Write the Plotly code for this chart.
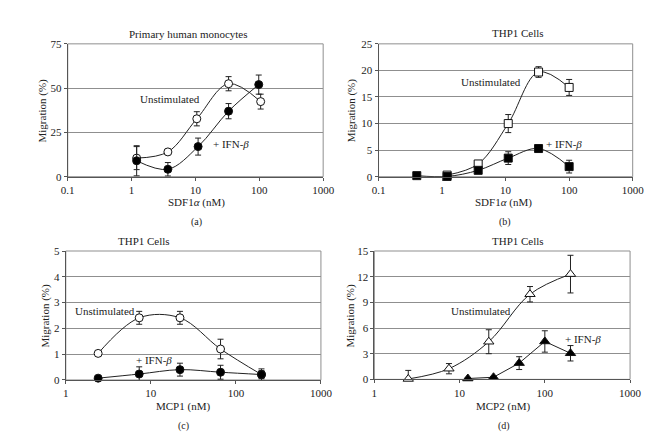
import plotly.graph_objects as go

# ---------------- data ----------------
# (a) Primary human monocytes, SDF1a
a_x_unstim = [1.2, 3.7, 10.5, 33, 105]
a_y_unstim = [10.5, 14.0, 32.7, 52.5, 42.4]
a_e_unstim = [6.5, 1.5, 4.0, 4.0, 4.2]
a_x_ifn = [1.2, 3.7, 11, 33, 98]
a_y_ifn = [9.0, 4.2, 17.0, 37.0, 52.0]
a_e_ifn = [8.5, 3.8, 4.8, 4.3, 5.4]

# (b) THP1 cells, SDF1a
b_x_unstim = [1.2, 3.7, 11, 33, 100]
b_y_unstim = [0.3, 2.4, 10.0, 19.7, 16.8]
b_e_unstim = [0.2, 0.3, 1.7, 1.0, 1.5]
b_x_ifn = [0.4, 1.2, 3.7, 11, 33, 100]
b_y_ifn = [0.2, 0.05, 1.2, 3.5, 5.3, 1.9]
b_e_ifn = [0.15, 0.1, 0.3, 1.2, 0.7, 1.2]

# (c) THP1 cells, MCP1
c_x = [2.4, 7.3, 22, 66, 200]
c_y_unstim = [1.03, 2.41, 2.41, 1.2, 0.21]
c_e_unstim = [0.1, 0.25, 0.25, 0.38, 0.22]
c_y_ifn = [0.07, 0.23, 0.4, 0.3, 0.21]
c_e_ifn = [0.05, 0.28, 0.25, 0.27, 0.15]

# (d) THP1 cells, MCP2
d_x_unstim = [2.5, 7.5, 22, 67, 200]
d_y_unstim = [0.05, 1.25, 4.4, 9.95, 12.3]
d_e_unstim = [1.0, 0.6, 1.4, 0.9, 2.2]
d_x_ifn = [12.5, 25, 50, 100, 200]
d_y_ifn = [0.1, 0.25, 1.9, 4.43, 3.05]
d_e_ifn = [0.1, 0.1, 0.75, 1.25, 0.9]

W, H = 660, 437
FONT = "Liberation Serif"

fig = go.Figure()

def px_x(p):
    return p / W

def px_y(p):
    return 1 - p / H

panels = [
    dict(n="", xd=(54.3, 317.3), yd=(30.7, 167.3), xr=(-1, 3), yr=(0, 75), dt=25,
         xt=[0.1, 1, 10, 100, 1000], xl=["0.1", "1", "10", "100", "1000"]),
    dict(n="2", xd=(374.3, 636), yd=(30.7, 167.3), xr=(-1, 3), yr=(0, 25), dt=5,
         xt=[0.1, 1, 10, 100, 1000], xl=["0.1", "1", "10", "100", "1000"]),
    dict(n="3", xd=(52.3, 315), yd=(243.7, 376.3), xr=(0, 3), yr=(0, 5), dt=1,
         xt=[1, 10, 100, 1000], xl=["1", "10", "100", "1000"]),
    dict(n="4", xd=(370, 633.3), yd=(243.7, 375.7), xr=(0, 3), yr=(0, 15), dt=3,
         xt=[1, 10, 100, 1000], xl=["1", "10", "100", "1000"]),
]

layout = {}
for p in panels:
    n = p["n"]
    layout["xaxis" + n] = dict(
        type="log", range=list(p["xr"]),
        domain=[px_x(p["xd"][0]), px_x(p["xd"][1])],
        anchor="y" + n, tickvals=p["xt"], ticktext=p["xl"],
        showgrid=False, zeroline=False, showline=True, linecolor="#555555",
        linewidth=1, ticks="outside", ticklen=3, tickcolor="#555555",
        tickfont=dict(family=FONT, size=11, color="#222222"),
    )
    layout["yaxis" + n] = dict(
        range=list(p["yr"]), dtick=p["dt"],
        domain=[px_y(p["yd"][1]), px_y(p["yd"][0])],
        anchor="x" + n, showgrid=True, gridcolor="#8f8f8f", gridwidth=1,
        zeroline=False, showline=True, linecolor="#555555", linewidth=1,
        ticks="outside", ticklen=3, tickcolor="#555555",
        tickfont=dict(family=FONT, size=11, color="#222222"),
    )

def add_series(n, xs, ys, es, symbol, fill, shape="spline"):
    fig.add_trace(go.Scatter(
        x=xs, y=ys, mode="lines+markers",
        xaxis="x" + n, yaxis="y" + n,
        line=dict(color="#222222", width=1, shape=shape, smoothing=1.0),
        marker=dict(symbol=symbol, size=8 if symbol != "triangle-up" else 9,
                    color=fill, line=dict(color="#111111", width=1)),
        error_y=dict(type="data", array=es, visible=True, color="#222222",
                     thickness=1, width=3),
        showlegend=False, cliponaxis=False,
    ))

add_series("", a_x_unstim, a_y_unstim, a_e_unstim, "circle", "white")
add_series("", a_x_ifn, a_y_ifn, a_e_ifn, "circle", "black")
add_series("2", b_x_unstim, b_y_unstim, b_e_unstim, "square", "white")
add_series("2", b_x_ifn, b_y_ifn, b_e_ifn, "square", "black")
add_series("3", c_x, c_y_unstim, c_e_unstim, "circle", "white")
add_series("3", c_x, c_y_ifn, c_e_ifn, "circle", "black")
add_series("4", d_x_unstim, d_y_unstim, d_e_unstim, "triangle-up", "white")
add_series("4", d_x_ifn, d_y_ifn, d_e_ifn, "triangle-up", "black", shape="linear")

shapes = []
for p in panels:
    n = p["n"]
    shapes.append(dict(type="rect", xref=("x" + n if n else "x") + " domain",
                       yref=("y" + n if n else "y") + " domain",
                       x0=0, x1=1, y0=0, y1=1,
                       line=dict(color="#8f8f8f", width=1), layer="below"))

def txt(x, y, t, size=11, angle=0):
    return dict(x=px_x(x), y=px_y(y), xref="paper", yref="paper", text=t,
                showarrow=False, xanchor="center", yanchor="middle",
                textangle=angle,
                font=dict(family=FONT, size=size, color="#222222"))

ifn = "+ IFN-<i>β</i>"
sdf = "SDF1<i>α</i> (nM)"
annotations = [
    txt(178.3, 20.7, "Primary human monocytes"),
    txt(518.3, 20.0, "THP1 Cells"),
    txt(133.0, 233.7, "THP1 Cells"),
    txt(518.3, 233.7, "THP1 Cells"),
    txt(187, 194, sdf),
    txt(503, 194, sdf),
    txt(173, 404, "MCP1 (nM)"),
    txt(502, 404, "MCP2 (nM)"),
    txt(187, 214, "(a)", 10),
    txt(505, 214, "(b)", 10),
    txt(173, 424, "(c)", 10),
    txt(504, 424, "(d)", 10),
    txt(28, 99, "Migration (%)", 11, -90),
    txt(346, 99, "Migration (%)", 11, -90),
    txt(31, 310, "Migration (%)", 11, -90),
    txt(345, 310, "Migration (%)", 11, -90),
    txt(160, 87.3, "Unstimulated"),
    txt(222, 134, ifn),
    txt(490, 70, "Unstimulated"),
    txt(565, 133.3, ifn),
    txt(92.3, 305.3, "Unstimulated"),
    txt(142.7, 355.7, ifn),
    txt(479.3, 305.3, "Unstimulated"),
    txt(585, 334, ifn),
]

fig.update_layout(
    width=W, height=H, margin=dict(l=0, r=0, t=0, b=0),
    paper_bgcolor="white", plot_bgcolor="white",
    font=dict(family=FONT),
    shapes=shapes, annotations=annotations, **layout,
)

fig.write_html("out.html")
